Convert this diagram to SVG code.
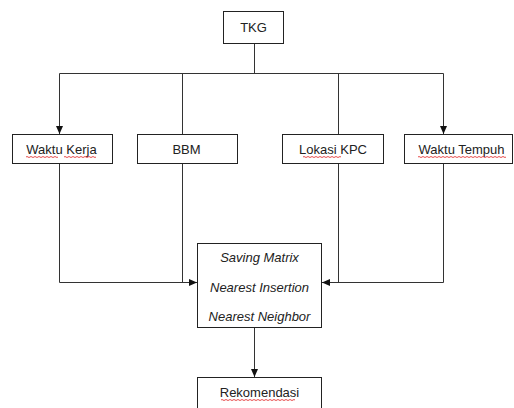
<svg xmlns="http://www.w3.org/2000/svg" width="514" height="408" viewBox="0 0 514 408">
<style>
.box{fill:#fff;stroke:#222;stroke-width:1}
.t{font-family:"Liberation Sans",Arial,sans-serif;font-size:13px;fill:#222;text-anchor:middle}
.i{font-style:italic}
.c{fill:none;stroke:#333;stroke-width:1}
.sq{fill:none;stroke:#e02020;stroke-width:0.8}
</style>
<defs>
<marker id="ah" viewBox="0 0 8 8" refX="8" refY="4" markerWidth="8" markerHeight="8" markerUnits="userSpaceOnUse" orient="auto">
<path d="M0,0.5 L8,4 L0,7.5 Z" fill="#111"/>
</marker>
</defs>
<rect width="514" height="408" fill="#fff"/>
<g id="connectors">
<path class="c" d="M254.5,43 V73.5"/>
<path class="c" d="M59.5,73.5 H443.5"/>
<path class="c" d="M59.5,73.5 V134" marker-end="url(#ah)"/>
<path class="c" d="M443.5,73.5 V134" marker-end="url(#ah)"/>
<path class="c" d="M182.5,73.5 V134"/>
<path class="c" d="M338.5,73.5 V134"/>
<path class="c" d="M59.5,163 V282.5 H197" marker-end="url(#ah)"/>
<path class="c" d="M182.5,163 V282.5"/>
<path class="c" d="M443.5,163 V282.5 H322" marker-end="url(#ah)"/>
<path class="c" d="M338.5,163 V282.5"/>
<path class="c" d="M254.5,328 V377" marker-end="url(#ah)"/>
</g>
<g id="tkg">
<rect class="box" x="223.5" y="11.5" width="60" height="32"/>
<text class="t" x="253.5" y="32">TKG</text>
</g>
<g id="waktu-kerja">
<rect class="box" x="12.5" y="134.5" width="100" height="29"/>
<text class="t" x="61.5" y="154">Waktu Kerja</text>
<path class="sq" d="M26,157 q1,-1 2,0 t2,0 t2,0 t2,0 t2,0 t2,0 t2,0 t2,0 t2,0 t2,0 t2,0 t2,0 t2,0 t2,0 t2,0 t2,0"/>
<path class="sq" d="M64,157 q1,-1 2,0 t2,0 t2,0 t2,0 t2,0 t2,0 t2,0 t2,0 t2,0 t2,0 t2,0 t2,0 t2,0 t2,0 t2,0 t2,0"/>
</g>
<g id="bbm">
<rect class="box" x="137.5" y="134.5" width="100" height="29"/>
<text class="t" x="186.5" y="154">BBM</text>
</g>
<g id="lokasi-kpc">
<rect class="box" x="282.5" y="134.5" width="101" height="29"/>
<text class="t" x="333" y="154">Lokasi KPC</text>
<path class="sq" d="M303,157 q1,-1 2,0 t2,0 t2,0 t2,0 t2,0 t2,0 t2,0 t2,0 t2,0 t2,0 t2,0 t2,0 t2,0 t2,0 t2,0 t2,0 t2,0 t2,0 t2,0"/>
</g>
<g id="waktu-tempuh">
<rect class="box" x="404.5" y="134.5" width="108" height="29"/>
<text class="t" x="461.5" y="154">Waktu Tempuh</text>
<path class="sq" d="M418,157 q1,-1 2,0 t2,0 t2,0 t2,0 t2,0 t2,0 t2,0 t2,0 t2,0 t2,0 t2,0 t2,0 t2,0 t2,0 t2,0 t2,0 t2,0 t2,0 t2,0 t2,0 t2,0 t2,0 t2,0 t2,0 t2,0 t2,0 t2,0 t2,0 t2,0 t2,0 t2,0 t2,0 t2,0 t2,0 t2,0 t2,0 t2,0 t2,0 t2,0 t2,0 t2,0 t2,0 t2,0 t2,0"/>
</g>
<g id="metode">
<rect class="box" x="197.5" y="243.5" width="124" height="84"/>
<text class="t i" x="259.5" y="262">Saving Matrix</text>
<text class="t i" x="259.5" y="292">Nearest Insertion</text>
<text class="t i" x="259.5" y="321">Nearest Neighbor</text>
</g>
<g id="rekomendasi">
<rect class="box" x="197.5" y="377.5" width="124" height="40"/>
<text class="t" x="259.5" y="397">Rekomendasi</text>
<path class="sq" d="M221,400 q1,-1 2,0 t2,0 t2,0 t2,0 t2,0 t2,0 t2,0 t2,0 t2,0 t2,0 t2,0 t2,0 t2,0 t2,0 t2,0 t2,0 t2,0 t2,0 t2,0 t2,0 t2,0 t2,0 t2,0 t2,0 t2,0 t2,0 t2,0 t2,0 t2,0 t2,0 t2,0 t2,0 t2,0 t2,0 t2,0 t2,0 t2,0"/>
</g>
</svg>
